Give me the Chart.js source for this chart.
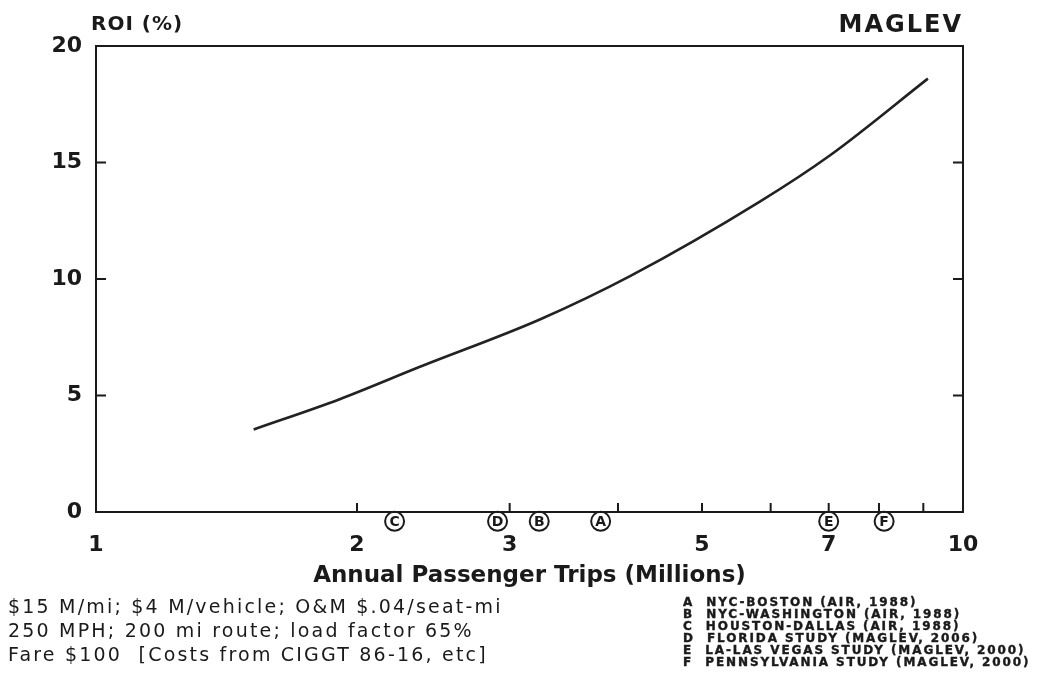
<!DOCTYPE html>
<html>
<head>
<meta charset="utf-8">
<script src="https://cdn.jsdelivr.net/npm/chart.js@4"></script>
<style>
  body { margin: 0; background: #fff; }
  #wrap { position: relative; width: 1038px; height: 683px; }
  #myChart { position: absolute; left: 0; top: 0; }
  .lbl { position: absolute; color: #1a1a1a; white-space: pre; font-family: "DejaVu Sans", sans-serif; }
  #roi { left: 91px; top: 11px; font-size: 20px; font-weight: bold; letter-spacing: 1px; }
  #maglev { right: 75px; top: 10px; font-size: 24px; font-weight: bold; letter-spacing: 2px; }
  #notes { left: 8px; top: 594px; font-size: 19px; line-height: 24px; letter-spacing: 2.2px; }
  #legend { left: 683px; top: 596px; font-size: 12px; line-height: 12px; font-weight: bold; letter-spacing: 1.9px; -webkit-text-stroke: 0.4px #1a1a1a; }
</style>
</head>
<body>
<div id="wrap">
  <canvas id="myChart" width="1038" height="683"></canvas>
  <div class="lbl" id="roi">ROI (%)</div>
  <div class="lbl" id="maglev">MAGLEV</div>
  <div class="lbl" id="notes"></div>
  <div class="lbl" id="legend"></div>
</div>
<script>
// curve (x = millions of trips, y = ROI %)
var tripsX = [1.52, 1.91, 2.36, 3.25, 4.13, 5.83, 7.02, 9.11];
var roiY = [3.54, 4.84, 6.22, 8.26, 10.12, 13.32, 15.30, 18.60];

// circled letters under the axis
var markerLetters = ["A", "B", "C", "D", "E", "F"];
var markerX = [3.82, 3.245, 2.21, 2.905, 7.0, 8.11];
var markerY = [-0.4, -0.4, -0.4, -0.4, -0.4, -0.4];

var xTicks = [1, 2, 3, 4, 5, 6, 7, 8, 9, 10];
var xLabeled = [1, 2, 3, 5, 7, 10];
var yTicks = [0, 5, 10, 15, 20];

var notes = [
  "$15 M/mi; $4 M/vehicle; O&M $.04/seat-mi",
  "250 MPH; 200 mi route; load factor 65%",
  "Fare $100  [Costs from CIGGT 86-16, etc]"
];
var legendNames = [
  "NYC-BOSTON (AIR, 1988)",
  "NYC-WASHINGTON (AIR, 1988)",
  "HOUSTON-DALLAS (AIR, 1988)",
  "FLORIDA STUDY (MAGLEV, 2006)",
  "LA-LAS VEGAS STUDY (MAGLEV, 2000)",
  "PENNSYLVANIA STUDY (MAGLEV, 2000)"
];

document.getElementById("notes").textContent = notes.join("\n");
var leg = [];
for (var i = 0; i < legendNames.length; i++) {
  leg.push(markerLetters[i] + "  " + legendNames[i]);
}
document.getElementById("legend").textContent = leg.join("\n");

var curve = [];
for (var i = 0; i < tripsX.length; i++) {
  curve.push({ x: tripsX[i], y: roiY[i] });
}
var marks = [];
for (var i = 0; i < markerX.length; i++) {
  marks.push({ x: markerX[i], y: markerY[i] });
}

var ink = "#1a1a1a";

// box, inner tick marks and the circled letters
var extras = {
  id: "extras",
  afterDatasetsDraw: function (chart) {
    var c = chart.ctx;
    var a = chart.chartArea;
    var xs = chart.scales.x;
    var ys = chart.scales.y;
    c.save();
    c.strokeStyle = ink;
    c.lineWidth = 2;
    c.strokeRect(a.left, a.top, a.right - a.left, a.bottom - a.top);
    c.beginPath();
    for (var i = 1; i < xTicks.length - 1; i++) {
      var px = xs.getPixelForValue(xTicks[i]);
      c.moveTo(px, a.bottom);
      c.lineTo(px, a.bottom - 9);
    }
    for (var j = 1; j < yTicks.length - 1; j++) {
      var py = ys.getPixelForValue(yTicks[j]);
      c.moveTo(a.left, py);
      c.lineTo(a.left + 10, py);
      c.moveTo(a.right, py);
      c.lineTo(a.right - 10, py);
    }
    c.stroke();
    var meta = chart.getDatasetMeta(1);
    c.fillStyle = ink;
    c.font = "bold 14px 'DejaVu Sans'";
    c.textAlign = "center";
    c.textBaseline = "middle";
    for (var k = 0; k < meta.data.length; k++) {
      var p = meta.data[k];
      c.fillText(markerLetters[k], p.x, p.y + 1);
    }
    c.restore();
  }
};

var ctx = document.getElementById("myChart");
var myChart = new Chart(ctx, {
  type: "scatter",
  data: {
    datasets: [
      {
        data: curve,
        showLine: true,
        borderColor: "#222",
        borderWidth: 2.6,
        pointRadius: 0,
        cubicInterpolationMode: "monotone"
      },
      {
        data: marks,
        pointRadius: 9.5,
        pointBorderWidth: 2,
        pointBorderColor: ink,
        pointBackgroundColor: "#fff",
        clip: false
      }
    ]
  },
  options: {
    responsive: false,
    animation: false,
    layout: { padding: { top: 46, right: 75, left: 0, bottom: 91 } },
    plugins: { legend: { display: false }, tooltip: { enabled: false } },
    scales: {
      x: {
        type: "logarithmic",
        min: 1,
        max: 10,
        afterBuildTicks: function (s) {
          s.ticks = xTicks.map(function (v) { return { value: v }; });
        },
        afterFit: function (s) { s.height = 80; },
        grid: { display: false },
        border: { display: false },
        ticks: {
          autoSkip: false,
          maxRotation: 0,
          padding: 12,
          color: ink,
          font: { family: "DejaVu Sans", size: 22, weight: "bold" },
          callback: function (v) {
            return xLabeled.indexOf(v) >= 0 ? String(v) : "";
          }
        },
        title: {
          display: true,
          text: "Annual Passenger Trips (Millions)",
          color: ink,
          padding: { top: 0, bottom: 2 },
          font: { family: "DejaVu Sans", size: 23, weight: "bold" }
        }
      },
      y: {
        min: 0,
        max: 20,
        afterBuildTicks: function (s) {
          s.ticks = yTicks.map(function (v) { return { value: v }; });
        },
        afterFit: function (s) { s.width = 96; },
        grid: { display: false },
        border: { display: false },
        ticks: {
          padding: 6,
          color: ink,
          font: { family: "DejaVu Sans", size: 22, weight: "bold" }
        }
      }
    }
  },
  plugins: [extras]
});
</script>
</body>
</html>
